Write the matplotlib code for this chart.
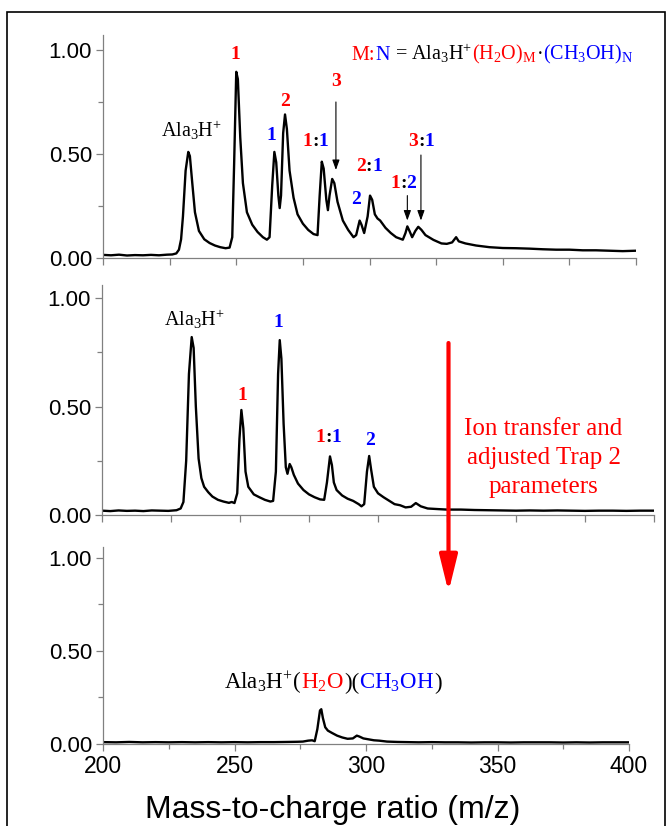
import matplotlib
matplotlib.use('Agg')
import matplotlib.pyplot as plt
from matplotlib.offsetbox import TextArea, HPacker, AnnotationBbox
from matplotlib.patches import FancyArrowPatch, Rectangle
from matplotlib.ticker import FormatStrFormatter

plt.rcParams['font.family'] = ['Liberation Sans', 'DejaVu Sans']
plt.rcParams['mathtext.default'] = 'regular'

# ---------------- data ----------------
top_mz = [200, 203, 206, 209, 212, 215, 218, 221, 224, 226, 227.5, 228.5, 229.3, 230, 231, 232, 232.6,
          233.5, 234.5, 236, 238, 240, 242, 244, 246, 247.5, 248.5, 249.2, 250, 250.6, 251.5, 252.5,
          254, 256, 258, 260, 261.5, 262.5, 263.5, 264.3, 265, 265.8, 266.3, 266.8, 267.6, 268.3, 269,
          270, 271.5, 273, 275, 277, 279, 280.5, 281.3, 282.1, 282.8, 283.8, 284.4, 285, 286, 286.8,
          288, 290, 292, 294, 295, 296.3, 297, 298, 299.3, 300.2, 301, 302, 303, 304, 306, 308, 310,
          312.5, 313.5, 314.2, 315, 316, 317.2, 318.3, 319.5, 321, 324, 327, 329, 331, 332.5, 333.5,
          336, 340, 345, 350, 355, 360, 365, 370, 375, 380, 385, 390, 395, 400]
top_int = [0.015, 0.013, 0.016, 0.012, 0.014, 0.013, 0.015, 0.013, 0.016, 0.017, 0.022, 0.04, 0.09, 0.2, 0.42, 0.51, 0.49,
           0.36, 0.22, 0.13, 0.09, 0.072, 0.06, 0.052, 0.047, 0.05, 0.1, 0.45, 0.895, 0.86, 0.58, 0.36,
           0.22, 0.16, 0.125, 0.1, 0.088, 0.1, 0.35, 0.51, 0.46, 0.3, 0.24, 0.3, 0.6, 0.69, 0.62,
           0.42, 0.29, 0.21, 0.165, 0.135, 0.115, 0.11, 0.3, 0.463, 0.43, 0.28, 0.23, 0.3, 0.38, 0.36,
           0.27, 0.18, 0.135, 0.1, 0.11, 0.18, 0.16, 0.12, 0.2, 0.3, 0.28, 0.21, 0.19, 0.18, 0.145, 0.12, 0.1,
           0.088, 0.12, 0.152, 0.13, 0.1, 0.13, 0.15, 0.135, 0.11, 0.087, 0.07, 0.068, 0.075, 0.1, 0.08,
           0.07, 0.06, 0.052, 0.048, 0.047, 0.045, 0.042, 0.04, 0.04, 0.037, 0.037, 0.035, 0.033, 0.035]

mid_mz = [200, 203, 206, 209, 212, 215, 218, 221, 224, 227, 228.5, 229.5, 230.5, 231.5, 232.5, 233.2, 234,
          235, 236, 237, 238.5, 240, 242, 244, 246, 247, 248, 249, 249.8, 250.5, 251.2, 252, 253, 255,
          257, 259, 261, 262, 263, 263.8, 264.4, 265, 265.8, 266.6, 267.2, 268, 268.6, 269.5, 271, 273,
          275, 277, 279, 280.5, 281.5, 282.6, 283.3, 284, 285, 287, 289, 291, 293, 294, 295, 296, 296.8,
          297.5, 298.5, 300, 302, 304, 306, 308, 310, 312, 313.7, 315.5, 318, 322, 325, 330, 335, 340,
          345, 350, 355, 360, 365, 370, 375, 380, 385, 390, 395, 400]
mid_int = [0.02, 0.018, 0.021, 0.019, 0.02, 0.018, 0.021, 0.02, 0.019, 0.022, 0.03, 0.06, 0.25, 0.65, 0.82, 0.77, 0.5,
           0.26, 0.17, 0.13, 0.105, 0.085, 0.07, 0.062, 0.056, 0.06, 0.055, 0.1, 0.35, 0.484, 0.4, 0.2, 0.13, 0.095,
           0.082, 0.07, 0.062, 0.065, 0.2, 0.65, 0.806, 0.72, 0.42, 0.22, 0.19, 0.235, 0.22, 0.185, 0.145, 0.115,
           0.095, 0.082, 0.072, 0.07, 0.15, 0.27, 0.23, 0.15, 0.115, 0.09, 0.075, 0.065, 0.05, 0.04, 0.05, 0.2, 0.272,
           0.21, 0.13, 0.1, 0.082, 0.066, 0.05, 0.045, 0.035, 0.038, 0.055, 0.04, 0.03, 0.027, 0.025, 0.025, 0.023, 0.022,
           0.021, 0.02, 0.021, 0.02, 0.021, 0.02, 0.019, 0.02, 0.02, 0.019, 0.02, 0.02]

bot_mz = [200, 205, 210, 215, 220, 225, 230, 235, 240, 245, 250, 255, 260, 265, 270, 274, 276, 278, 279.5,
          280.5, 281.5, 282.5, 283, 283.6, 284.5, 285.5, 287, 289, 291, 293, 295, 296.5, 297.5, 299, 301,
          303, 305, 308, 312, 316, 320, 325, 330, 335, 340, 345, 350, 355, 360, 365, 370, 375, 380, 385,
          390, 395, 400]
bot_int = [0.01, 0.009, 0.011, 0.009, 0.01, 0.009, 0.01, 0.009, 0.01, 0.009, 0.01, 0.009, 0.01, 0.01, 0.011, 0.012, 0.013, 0.018, 0.02,
           0.015, 0.08, 0.18, 0.187, 0.14, 0.09, 0.072, 0.06, 0.045, 0.035, 0.028, 0.03, 0.045, 0.04, 0.03, 0.025,
           0.02, 0.018, 0.013, 0.011, 0.01, 0.009, 0.01, 0.009, 0.009, 0.008, 0.009, 0.009, 0.008, 0.009, 0.009, 0.009, 0.008, 0.009, 0.008,
           0.009, 0.009, 0.009]

y_ticks = [0.0, 0.5, 1.0]
y_minor = [0.25, 0.75]
x_ticks_all = [200, 225, 250, 275, 300, 325, 350, 375, 400]
x_ticks_bot = [200, 250, 300, 350, 400]
x_minor_bot = [225, 275, 325, 375]

# ---------------- layout ----------------
W, H = 666, 826
fig = plt.figure(figsize=(W / 100, H / 100), dpi=100)


def rect(l, t, r, b):
    return [l / W, 1 - b / H, (r - l) / W, (b - t) / H]


ax1 = fig.add_axes(rect(103, 35, 636, 258))
ax2 = fig.add_axes(rect(102, 285, 654, 515))
ax3 = fig.add_axes(rect(103, 547, 629, 744))

gray = '#808080'
for ax, ytop in ((ax1, 1.072), (ax2, 1.06), (ax3, 1.059)):
    ax.set_xlim(200, 400)
    ax.set_ylim(0, ytop)
    ax.spines[['top', 'right']].set_visible(False)
    for s in ('left', 'bottom'):
        ax.spines[s].set_color(gray)
        ax.spines[s].set_linewidth(0.9)
    ax.set_yticks(y_ticks)
    ax.set_yticks(y_minor, minor=True)
    ax.yaxis.set_major_formatter(FormatStrFormatter('%.2f'))
    ax.tick_params(which='major', direction='out', length=5, width=0.9, color=gray,
                   labelsize=16, pad=3)
    ax.tick_params(which='minor', direction='out', length=3.6, width=0.9, color=gray)

for ax in (ax1, ax2):
    ax.set_xticks(x_ticks_all)
    ax.tick_params(axis='x', labelbottom=False)
ax3.set_xticks(x_ticks_bot)
ax3.set_xticks(x_minor_bot, minor=True)
ax3.tick_params(axis='x', labelsize=16.5, pad=3)

ax1.plot(top_mz, top_int, color='black', lw=1.7)
ax2.plot(mid_mz, mid_int, color='black', lw=1.7)
ax3.plot(bot_mz, bot_int, color='black', lw=1.7)

SERIF = 'Liberation Serif'
RED = '#ff0000'
BLUE = '#0000ff'
ALA = 'Ala$_3$H$^{+}$'


def colored(ax, x, y, parts, size, weight='normal', align=(0.5, 0.5)):
    boxes = [TextArea(t, textprops=dict(color=c, fontsize=size, family=SERIF, fontweight=weight))
             for t, c in parts]
    pack = HPacker(children=boxes, align='baseline', pad=0, sep=0)
    ab = AnnotationBbox(pack, (x, y), xycoords='data', frameon=False,
                        box_alignment=align, pad=0)
    ax.add_artist(ab)


def num(ax, x, y, s, c):
    ax.text(x, y, s, color=c, fontsize=14, family=SERIF, fontweight='bold',
            ha='center', va='center')


def pair(ax, x, y, a, b):
    colored(ax, x, y, [(a, RED), (':', 'black'), (b, BLUE)], 14, weight='bold')


# top panel labels
ax1.text(233, 0.615, ALA, fontsize=14.5, family=SERIF, ha='center', va='center')
num(ax1, 249.8, 0.976, '1', RED)
num(ax1, 263, 0.59, '1', BLUE)
num(ax1, 268.3, 0.75, '2', RED)
pair(ax1, 279.8, 0.56, '1', '1')
num(ax1, 287.4, 0.848, '3', RED)
num(ax1, 294.9, 0.279, '2', BLUE)
pair(ax1, 299.8, 0.439, '2', '1')
pair(ax1, 312.7, 0.359, '1', '2')
pair(ax1, 319.5, 0.559, '3', '1')
colored(ax1, 399, 0.98,
        [('M:', RED), ('N', BLUE), (' = ' + ALA, 'black'), ('(H$_2$O)$_M$', RED),
         ('\u00b7', 'black'), ('(CH$_3$OH)$_N$', BLUE)], 14.5, align=(1.0, 0.5))

arrow_kw = dict(arrowstyle='-|>,head_length=0.5,head_width=0.18', color='black', lw=0.8,
                mutation_scale=12, shrinkA=0, shrinkB=0)
ax1.annotate('', xy=(287.4, 0.423), xytext=(287.4, 0.75), arrowprops=arrow_kw)
ax1.annotate('', xy=(314.2, 0.18), xytext=(314.2, 0.30), arrowprops=arrow_kw)
ax1.annotate('', xy=(319.3, 0.18), xytext=(319.3, 0.495), arrowprops=arrow_kw)

# middle panel labels
ax2.text(233.5, 0.9, ALA, fontsize=14.5, family=SERIF, ha='center', va='center')
num(ax2, 251, 0.553, '1', RED)
num(ax2, 264, 0.885, '1', BLUE)
pair(ax2, 282, 0.355, '1', '1')
num(ax2, 297, 0.345, '2', BLUE)
ax2.text(360, 0.262, 'Ion transfer and\nadjusted Trap 2\nparameters', color=RED, fontsize=18,
         family=SERIF, ha='center', va='center', multialignment='center', linespacing=1.42)

# bottom panel label
colored(ax3, 287.4, 0.33,
        [(ALA + '(', 'black'), ('H$_2$O', RED), (')(', 'black'), ('CH$_3$OH', BLUE),
         (')', 'black')], 16.5)

# big red arrow across panels
fig.add_artist(FancyArrowPatch((448.5 / W, 1 - 343 / H), (448.5 / W, 1 - 592 / H),
                               transform=fig.transFigure,
                               arrowstyle='-|>,head_length=1.1,head_width=0.27',
                               mutation_scale=20, color=RED, lw=3, shrinkA=0, shrinkB=0))

fig.text(333 / W, 1 - 810 / H, 'Mass-to-charge ratio (m/z)', fontsize=23, ha='center', va='center')

fig.add_artist(Rectangle((7 / W, -0.05), (665 - 7) / W, 1 - 12 / H + 0.05,
                         transform=fig.transFigure, fill=False, edgecolor='black', lw=1.2))

fig.savefig('out.png', dpi=100)
